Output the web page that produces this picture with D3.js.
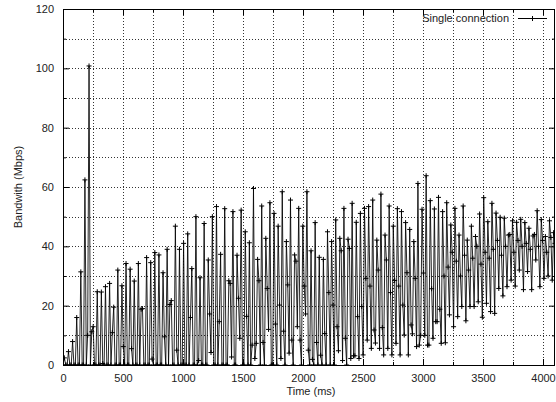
<!DOCTYPE html>
<html>
<head>
<meta charset="utf-8">
<script src="https://cdn.jsdelivr.net/npm/d3@7"></script>
<style>
  html, body { margin: 0; padding: 0; background: #fff; }
  svg { display: block; }
  text { font-family: "Liberation Sans", Arial, Helvetica, sans-serif; font-size: 11px; fill: #222; }
</style>
</head>
<body>
<svg id="chart" width="556" height="402"></svg>
<script>
// Bandwidth of a single connection, sampled every sampleMs milliseconds.
// Each burst cycle is recorded as three consecutive samples: trough, peak, tail.
const seriesName = "Single connection";
const sampleMs = 11.42;

const cycleLows = [
  0, 0, 0, 0, 0, 0, 10, 11.2, 0, 0,
  0, 0, 10.9, 0, 0, 0, 0, 0, 0, 18.8,
  0, 0, 0, 0, 0, 0, 20.4, 0, 0, 0,
  0, 16, 0, 1.5, 0, 0, 4.2, 0, 14.6, 0,
  0, 2.7, 0, 9, 0, 0, 6.7, 7.3, 0, 0,
  12, 0, 0, 2.2, 0, 4, 0, 12.9, 0, 17.2,
  0, 0, 0, 0, 0, 0, 0, 4.8, 1.5, 0,
  2.2, 3.1, 2.2, 3.4, 8.4, 5.6, 7.4, 5.6, 3.4, 5.6,
  3.4, 7.3, 3.4, 10.1, 3.4, 10.5, 6.2, 10, 10, 6.7,
  9, 14.6, 7.3, 7.5, 16.9, 12.9, 16.3, 19.7, 14.9, 19.7,
  19.7, 21.3, 16.1, 20.8, 18, 17.4, 25.8, 23.3, 26.4, 28.6,
  26.6, 32, 25.4, 31.5, 25.4, 35.4, 26.4, 29.2, 30, 28.6
];

const cyclePeaks = [
  2.4, 4.5, 7.9, 16, 31.4, 62.4, 100.8, 12.9, 24.7, 24.6,
  26.4, 27.5, 19.5, 32, 26.7, 34.2, 32.3, 28.3, 34.2, 19,
  36.2, 34.5, 37.9, 37.1, 31.1, 39, 21.7, 46.8, 39, 41,
  44.2, 32.5, 50, 29.4, 47.7, 35.4, 50, 53.4, 37.3, 52.7,
  28.4, 51.7, 37, 52.2, 44.9, 41.2, 59.5, 35.6, 53.6, 42.7,
  54.7, 51.1, 46.8, 58.4, 41.6, 55.6, 37.1, 52.8, 46.8, 58.4,
  38.5, 48, 36.3, 35.6, 44.9, 41.6, 48.9, 42.7, 52.8, 42.4,
  54.5, 48.1, 51.1, 52.8, 53.4, 55.6, 42.1, 57.6, 43.8, 53.6,
  46.8, 52.7, 51.7, 48, 45.7, 41.6, 61.2, 52.5, 63.8, 55.4,
  52.6, 56.5, 51.7, 54.7, 47.2, 52.8, 43.8, 53.6, 42.1, 46.8,
  43.3, 50.9, 56.4, 48.3, 54.5, 51.2, 49.8, 49.5, 43.8, 48.6,
  48.1, 49.1, 48, 46.1, 43.5, 52, 49, 43.3, 48.6, 44.6
];

const cycleTails = [
  0, 0, 0, 0, 0, 0, 0, 0, 0, 0.5,
  0, 0, 0, 0, 6.2, 0, 5.5, 0, 0, 0,
  0, 2, 0, 0, 9.5, 0, 0, 5, 0, 0,
  0, 0, 0, 0, 0, 17.2, 0, 0, 0, 0,
  27.5, 0, 22.5, 0, 16.4, 0, 2.2, 28.4, 7.6, 25.8,
  0, 13.8, 20.2, 11.4, 27, 8.4, 35, 8.4, 26.6, 5,
  1.9, 7.6, 3.3, 10.6, 24.4, 20.2, 12.9, 38.5, 9, 39.3,
  3.1, 16.3, 19.7, 29.2, 26.6, 11.8, 32, 12.6, 35.4, 24.4,
  28.5, 26.6, 20.2, 31.1, 13.5, 29.2, 6.7, 31, 6.7, 25.7,
  14.6, 18.8, 30, 33, 38, 35, 30, 37, 32, 36,
  40, 34, 38, 36, 39, 42, 37, 40, 44, 38,
  42, 40, 41, 39, 44, 40, 42, 38, 43, 41
];

const xTicks = [0, 500, 1000, 1500, 2000, 2500, 3000, 3500, 4000];
const xMinorTicks = [250, 750, 1250, 1750, 2250, 2750, 3250, 3750];
const yTicks = [0, 20, 40, 60, 80, 100, 120];
const yMinorTicks = [10, 30, 50, 70, 90, 110];
const xDomain = [0, 4100];
const yDomain = [0, 120];
const xTitle = "Time (ms)";
const yTitle = "Bandwith (Mbps)";

// Interleave the cycles into one time-ordered series
const samples = [];
cyclePeaks.forEach((p, c) => {
  [cycleLows[c], p, cycleTails[c]].forEach(v => {
    samples.push({ t: samples.length * sampleMs, v });
  });
});

const svg = d3.select("#chart");
const plot = { left: 63, right: 555, top: 9, bottom: 365 };

const x = d3.scaleLinear().domain(xDomain).range([plot.left, plot.right]);
const y = d3.scaleLinear().domain(yDomain).range([plot.bottom, plot.top]);

const px = v => Math.round(v) + 0.5;

// Dotted grid at major and minor ticks
const grid = svg.append("g")
  .attr("stroke", "#333").attr("stroke-width", 1)
  .attr("stroke-dasharray", "1,2").attr("fill", "none");
xTicks.concat(xMinorTicks).filter(t => t > xDomain[0] && t < xDomain[1]).forEach(t => {
  grid.append("line")
    .attr("x1", px(x(t))).attr("x2", px(x(t)))
    .attr("y1", plot.top).attr("y2", plot.bottom);
});
yTicks.concat(yMinorTicks).filter(t => t > yDomain[0] && t < yDomain[1]).forEach(t => {
  grid.append("line")
    .attr("x1", plot.left).attr("x2", plot.right)
    .attr("y1", px(y(t))).attr("y2", px(y(t)));
});

// Data line and point markers, clipped to the plot frame
svg.append("clipPath").attr("id", "plot-clip")
  .append("rect")
  .attr("x", plot.left).attr("y", plot.top)
  .attr("width", plot.right - plot.left).attr("height", plot.bottom - plot.top);

const dataLayer = svg.append("g").attr("clip-path", "url(#plot-clip)");

const line = d3.line().x(d => x(d.t)).y(d => y(d.v));
dataLayer.append("path")
  .datum(samples)
  .attr("fill", "none")
  .attr("stroke", "#000")
  .attr("stroke-width", 0.85)
  .attr("stroke-linejoin", "miter")
  .attr("d", line);

const cross = 2.5;
const markPath = samples.map(d => {
  const cx = x(d.t), cy = y(d.v);
  return `M${cx - cross},${cy}H${cx + cross}M${cx},${cy - cross}V${cy + cross}`;
}).join("");
dataLayer.append("path")
  .attr("d", markPath)
  .attr("fill", "none")
  .attr("stroke", "#000")
  .attr("stroke-width", 1);

// Axes: inward ticks mirrored on all four sides, labels on left and bottom
const axisBottom = d3.axisBottom(x).tickValues(xTicks).tickSize(-6).tickPadding(9).tickFormat(d3.format("d"));
const axisTop = d3.axisTop(x).tickValues(xTicks).tickSize(-6).tickFormat("");
const axisLeft = d3.axisLeft(y).tickValues(yTicks).tickSize(-6).tickPadding(9).tickFormat(d3.format("d"));
const axisRight = d3.axisRight(y).tickValues(yTicks).tickSize(-6).tickFormat("");

const minorBottom = d3.axisBottom(x).tickValues(xMinorTicks).tickSize(-3).tickFormat("");
const minorTop = d3.axisTop(x).tickValues(xMinorTicks).tickSize(-3).tickFormat("");
const minorLeft = d3.axisLeft(y).tickValues(yMinorTicks).tickSize(-3).tickFormat("");
const minorRight = d3.axisRight(y).tickValues(yMinorTicks).tickSize(-3).tickFormat("");

function styleAxis(g) {
  g.select(".domain").remove();
  g.selectAll(".tick line").attr("stroke", "#000");
  g.selectAll(".tick text")
    .attr("font-family", "'Liberation Sans', Arial, sans-serif")
    .attr("font-size", 11).attr("fill", "#222");
}

svg.append("g").attr("transform", `translate(0,${plot.bottom})`).call(axisBottom).call(styleAxis);
svg.append("g").attr("transform", `translate(0,${plot.top})`).call(axisTop).call(styleAxis);
svg.append("g").attr("transform", `translate(${plot.left},0)`).call(axisLeft).call(styleAxis);
svg.append("g").attr("transform", `translate(${plot.right},0)`).call(axisRight).call(styleAxis);
svg.append("g").attr("transform", `translate(0,${plot.bottom})`).call(minorBottom).call(styleAxis);
svg.append("g").attr("transform", `translate(0,${plot.top})`).call(minorTop).call(styleAxis);
svg.append("g").attr("transform", `translate(${plot.left},0)`).call(minorLeft).call(styleAxis);
svg.append("g").attr("transform", `translate(${plot.right},0)`).call(minorRight).call(styleAxis);

// Plot frame
svg.append("rect")
  .attr("x", plot.left + 0.5).attr("y", plot.top + 0.5)
  .attr("width", plot.right - plot.left - 1).attr("height", plot.bottom - plot.top)
  .attr("fill", "none").attr("stroke", "#000").attr("stroke-width", 1);

// Axis titles
svg.append("text")
  .attr("x", (plot.left + plot.right) / 2 + 2).attr("y", 395)
  .attr("text-anchor", "middle")
  .text(xTitle);
svg.append("text")
  .attr("transform", `translate(22,${(plot.top + plot.bottom) / 2}) rotate(-90)`)
  .attr("text-anchor", "middle")
  .text(yTitle);

// Key
const keyY = 18;
svg.append("text")
  .attr("x", 509).attr("y", keyY + 4)
  .attr("text-anchor", "end")
  .text(seriesName);
svg.append("line")
  .attr("x1", 518).attr("x2", 547)
  .attr("y1", keyY + 0.5).attr("y2", keyY + 0.5)
  .attr("stroke", "#000").attr("stroke-width", 1);
svg.append("path")
  .attr("d", `M${532.5 - cross},${keyY + 0.5}H${532.5 + cross}M${532.5},${keyY + 0.5 - cross}V${keyY + 0.5 + cross}`)
  .attr("stroke", "#000").attr("stroke-width", 1);
</script>
</body>
</html>
